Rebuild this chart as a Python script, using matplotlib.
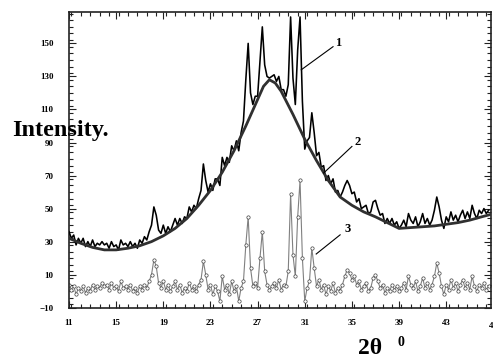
import numpy as np
import matplotlib
matplotlib.use("Agg")
import matplotlib.pyplot as plt
from matplotlib.ticker import MultipleLocator, FixedLocator

# ---- data ----
# curve 1: measured pattern, step 0.2 deg starting at 11.0
curve1 = [
    36, 32, 34, 28, 32, 29, 32, 27, 30, 27,      # 11.0-12.8
    31, 27, 29, 28, 30, 28, 29, 26, 30, 27,      # 13.0-14.8
    28, 25, 31, 28, 29, 27, 30, 27, 29, 26,      # 15.0-16.8
    31, 29, 33, 31, 36, 40, 51, 46, 37, 35,      # 17.0-18.8
    40, 35, 39, 36, 40, 44, 40, 44, 41, 45,      # 19.0-20.8
    44, 51, 48, 52, 50, 56, 61, 77, 67, 60,      # 21.0-22.8
    65, 61, 68, 68, 64, 81, 76, 81, 78, 88,      # 23.0-24.8
    85, 91, 85, 96, 103, 128, 150, 120, 113, 118,  # 25.0-26.8
    118, 139, 160, 137, 130, 129, 130, 131, 127, 130,  # 27.0-28.8
    122, 122, 118, 125, 166, 129, 113, 146, 166, 115,  # 29.0-30.8
    86, 91, 93, 108, 96, 82, 84, 75, 76, 67,     # 31.0-32.8
    70, 65, 68, 60, 61, 57, 60, 64, 67, 64,      # 33.0-34.8
    59, 60, 54, 56, 50, 51, 52, 47, 48, 54,      # 35.0-36.8
    55, 50, 46, 47, 41, 44, 41, 44, 40, 42,      # 37.0-38.8
    38, 40, 43, 39, 47, 43, 41, 45, 39, 42,      # 39.0-40.8
    47, 41, 44, 40, 43, 49, 57, 51, 43, 38,      # 41.0-42.8
    45, 42, 48, 43, 46, 42, 46, 49, 44, 48,      # 43.0-44.8
    44, 52, 47, 44, 49, 47, 50, 47, 49,          # 45.0-46.6
]

# curve 3: difference pattern, same grid
curve3 = [
    4, 1, 3, -2, 2, 0, 3, -1, 2, 0,
    4, 1, 3, 2, 5, 3, 4, 1, 5, 2,
    3, 0, 6, 2, 3, 1, 4, 0, 2, -1,
    3, 1, 4, 2, 6, 10, 19, 15, 5, 2,
    6, 1, 4, 0, 3, 6, 1, 4, -1, 2,
    0, 5, 1, 3, 0, 4, 7, 18, 10, 1,
    4, -2, 3, 0, -6, 9, 1, 4, -2, 6,
    0, 3, -6, 2, 6, 28, 45, 14, 3, 5,
    2, 20, 36, 12, 4, 1, 3, 5, 2, 7,
    1, 4, 3, 12, 59, 22, 9, 45, 67, 20,
    -6, 2, 6, 26, 14, 3, 7, 1, 4, -2,
    3, 0, 5, -1, 2, 0, 4, 9, 13, 11,
    7, 9, 4, 6, 1, 3, 5, 0, 2, 8,
    10, 6, 2, 4, -1, 2, 0, 4, 1, 3,
    0, 2, 5, 1, 9, 4, 2, 6, 0, 3,
    8, 2, 5, 1, 4, 9, 17, 11, 3, -2,
    4, 1, 7, 2, 5, 0, 4, 7, 2, 5,
    1, 9, 3, 0, 4, 2, 5, 1, 3,
]

# curve 2: smooth background
bg_x = [11, 12, 13, 14, 15, 16, 17, 18, 19, 20, 21, 22, 23, 24, 25, 26, 27,
        27.5, 28, 28.5, 29, 30, 31, 32, 33, 34, 35, 36, 37, 38, 39, 40, 41,
        42, 43, 44, 45, 46, 46.8]
bg_y = [32, 29, 26.5, 25, 25, 26, 27.5, 30, 33.5, 38, 44, 52, 61, 72, 85, 100, 116,
        124, 128, 126, 121, 107, 92, 79, 67, 57, 52, 48, 45, 41.5, 38, 38.5, 39,
        39.5, 40.5, 41.5, 43, 45, 46.5]

x_start, x_step = 11.0, 0.2
two_theta = x_start + x_step * np.arange(len(curve1))
two_theta3 = x_start + x_step * np.arange(len(curve3))

x_ticks = [11, 15, 19, 23, 27, 31, 35, 39, 43]
y_ticks = [-10, 10, 30, 50, 70, 90, 110, 130, 150]

# ---- figure ----
serif = ['Liberation Serif', 'DejaVu Serif']
fig = plt.figure(figsize=(4.93, 3.58), dpi=100)
ax = fig.add_axes([69/493, 1 - 307.7/358, (491 - 69)/493, (307.7 - 12)/358])

ax.plot(two_theta3, curve3, color='#808080', lw=0.8, marker='o', ms=2.4,
        mfc='white', mec='#404040', mew=0.5, zorder=2)
ax.plot(two_theta, curve1, color='black', lw=1.15, zorder=3)
ax.plot(bg_x, bg_y, color='#303030', lw=2.0, zorder=4)

ax.set_xlim(11, 46.8)
ax.set_ylim(-10, 169)
ax.xaxis.set_major_locator(FixedLocator(x_ticks))
ax.xaxis.set_minor_locator(MultipleLocator(0.8))
ax.yaxis.set_major_locator(FixedLocator(y_ticks))
ax.yaxis.set_minor_locator(MultipleLocator(4))
ax.tick_params(which='both', direction='in', top=True, right=True,
               color='#222222', width=0.8)
ax.tick_params(which='major', length=5)
ax.tick_params(which='minor', length=3)
ax.tick_params(axis='x', which='major', pad=8)
ax.tick_params(axis='y', which='major', pad=11)
for lab in ax.get_xticklabels() + ax.get_yticklabels():
    lab.set_family(serif)
    lab.set_fontweight('bold')
    lab.set_fontsize(6.5)
for s in ax.spines.values():
    s.set_linewidth(1.2)
    s.set_color('#222222')

# truncated "47" label at the right edge
ax.text(47, -0.05, '47', transform=ax.get_xaxis_transform(), ha='center',
        va='top', family=serif, fontweight='bold', fontsize=6.5, clip_on=False)

# leader lines and curve numbers
ax.plot([30.7, 33.4], [134, 148], color='black', lw=0.8, zorder=5)
ax.text(33.85, 150.2, '1', ha='center', va='center', family=serif,
        fontweight='bold', fontsize=9)
ax.plot([32.6, 35.0], [71.5, 87.6], color='black', lw=0.8, zorder=5)
ax.text(35.5, 90.6, '2', ha='center', va='center', family=serif,
        fontweight='bold', fontsize=9)
ax.plot([31.97, 34.0], [22.5, 34.1], color='black', lw=0.8, zorder=5)
ax.text(34.6, 37.6, '3', ha='center', va='center', family=serif,
        fontweight='bold', fontsize=9)

# axis titles
fig.text(12/493, 1 - 136/358, 'Intensity.', ha='left', va='baseline',
         family=serif, fontweight='bold', fontsize=17.5)
fig.text(358/493, 4.5/358, '2θ', ha='left', va='baseline',
         family=serif, fontweight='bold', fontsize=17)
fig.text(397/493, 12/358, '0', ha='left', va='baseline',
         family=serif, fontweight='bold', fontsize=10)

fig.savefig('out.png', dpi=100)
